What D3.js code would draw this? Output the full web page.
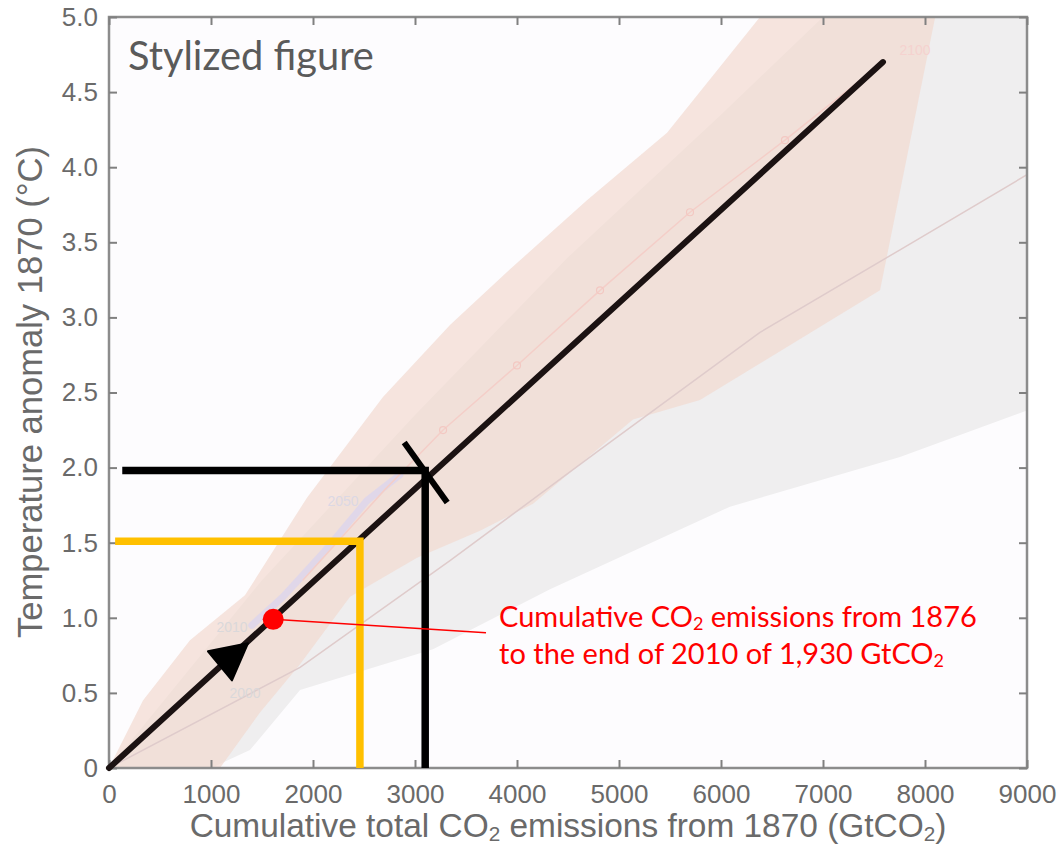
<!DOCTYPE html>
<html>
<head>
<meta charset="utf-8">
<script src="https://cdn.jsdelivr.net/npm/d3@7"></script>
<style>
  body { margin: 0; background: #fff; }
  svg { display: block; }
</style>
</head>
<body>
<svg id="chart"></svg>
<script>
// ---- data (GtCO2, degC) ----
const xTickValues = [0, 1000, 2000, 3000, 4000, 5000, 6000, 7000, 8000, 9000];
const yTickValues = [0, 0.5, 1, 1.5, 2, 2.5, 3, 3.5, 4, 4.5, 5];
const yTickLabels = ["0", "0.5", "1.0", "1.5", "2.0", "2.5", "3.0", "3.5", "4.0", "4.5", "5.0"];

// RCP plume (pink): upper edge, right edge, lower edge (right to left)
const pinkUpper = [[0, 0], [333, 0.45], [794, 0.85], [1333, 1.15], [1941, 1.80], [2686, 2.47], [3343, 2.95],
                   [3931, 3.32], [4686, 3.78], [5471, 4.23], [6382, 5.0], [6560, 5.2]];
const pinkRight = [[8100, 5.2], [8100, 5.0], [7559, 3.18]];
const pinkLower = [[5794, 2.45], [5137, 2.32], [4157, 1.76], [3637, 1.58], [3020, 1.40], [2363, 1.14],
                   [1873, 0.69], [1480, 0.37], [1088, 0]];

// 1% per year CO2 plume (grey)
const grayUpper = [[0, 0], [1500, 1.25], [3000, 2.35], [4500, 3.4], [6000, 4.35], [7000, 5.0], [7100, 5.2],
                   [9200, 5.2], [9200, 2.45]];
const grayLower = [[9000, 2.38], [7755, 2.07], [6088, 1.74], [4324, 1.19], [3176, 0.79], [1873, 0.52],
                   [1382, 0.12], [1000, 0]];

// faint background lines
const onePctLine = [[0, 0], [1873, 0.67], [3343, 1.38], [4814, 2.12], [6382, 2.90], [7755, 3.45], [9000, 3.95]];
const rcpLine = [[1900, 1.25], [2700, 1.85], [3275, 2.25], [4000, 2.68], [4814, 3.18], [5696, 3.70], [6627, 4.18], [7588, 4.70]];
const rcpMarkers = [[3275, 2.25], [4000, 2.68], [4814, 3.18], [5696, 3.70], [6627, 4.18]];
const histLine = [[1400, 0.95], [1706, 1.14], [2098, 1.43], [2529, 1.78], [2850, 1.95]];
const yearLabels = [
  { text: "2010", x: 1206, y: 0.94, color: "#dad8da" },
  { text: "2000", x: 1333, y: 0.50, color: "#dad8da" },
  { text: "2050", x: 2294, y: 1.78, color: "#dcd8e4" },
  { text: "2100", x: 7902, y: 4.78, color: "#f5d2cf" }
];

// stylized relationship
const mainLine = [[0, 0], [7588, 4.70]];
const arrowAt = [1176, 0.73];
const thresholds = [
  { temp: 1.98, emis: 3100, color: "#000000", start: 130 },
  { temp: 1.51, emis: 2460, color: "#ffc000", start: 60 }
];
const highlight = [1610, 0.99];
const noteEnd = [3696, 0.90];
const noteAt = [3824, 0.94];
const noteLines = [["Cumulative CO", "2", " emissions from 1876"], ["to the end of 2010 of 1,930 GtCO", "2", ""]];

// ---- layout ----
const width = 1061, height = 849;
const svg = d3.select("#chart").attr("width", width).attr("height", height);

const x = d3.scaleLinear().domain([0, 9000]).range([109, 1027]);
const y = d3.scaleLinear().domain([0, 5]).range([768, 17]);

const line = d3.line().x(d => x(d[0])).y(d => y(d[1]));

// fit a text element to a target width
function fitWidth(sel, target) {
  const w = sel.node().getBBox().width;
  const fs = parseFloat(sel.attr("font-size"));
  sel.attr("font-size", fs * target / w);
  return fs * target / w;
}

svg.append("clipPath").attr("id", "plot-clip")
  .append("rect")
  .attr("x", x(0)).attr("y", y(5))
  .attr("width", x(9000) - x(0)).attr("height", y(0) - y(5));

svg.append("rect")
  .attr("x", x(0)).attr("y", y(5))
  .attr("width", x(9000) - x(0)).attr("height", y(0) - y(5))
  .attr("fill", "#fdfcfe");

const plot = svg.append("g").attr("clip-path", "url(#plot-clip)");

// plumes
plot.append("path")
  .attr("d", line(grayUpper.concat(grayLower)) + "Z")
  .attr("fill", "#efeeef");

plot.append("path")
  .attr("d", line(pinkUpper.concat(pinkRight, pinkLower)) + "Z")
  .attr("fill", "#f1d8ce")
  .attr("fill-opacity", 0.68);

// faint lines
plot.append("path")
  .attr("d", line(onePctLine))
  .attr("fill", "none")
  .attr("stroke", "#dfcbcb")
  .attr("stroke-width", 1.5);

plot.append("path")
  .attr("d", line(histLine))
  .attr("fill", "none")
  .attr("stroke", "#dcd5ec")
  .attr("stroke-width", 7)
  .attr("stroke-linecap", "round")
  .attr("opacity", 0.8);

plot.append("path")
  .attr("d", line(rcpLine))
  .attr("fill", "none")
  .attr("stroke", "#f4cec8")
  .attr("stroke-width", 1.5);

plot.selectAll(".rcp-mark")
  .data(rcpMarkers)
  .enter().append("circle")
  .attr("class", "rcp-mark")
  .attr("cx", d => x(d[0]))
  .attr("cy", d => y(d[1]))
  .attr("r", 3.5)
  .attr("fill", "none")
  .attr("stroke", "#f3c8c2")
  .attr("stroke-width", 1.2);

plot.selectAll(".year")
  .data(yearLabels)
  .enter().append("text")
  .attr("class", "year")
  .attr("x", d => x(d.x))
  .attr("y", d => y(d.y))
  .attr("text-anchor", "middle")
  .attr("dominant-baseline", "central")
  .attr("font-family", "Liberation Sans, Arial, sans-serif")
  .attr("font-size", 14)
  .attr("fill", d => d.color)
  .text(d => d.text);

// frame
svg.append("rect")
  .attr("x", x(0)).attr("y", y(5))
  .attr("width", x(9000) - x(0)).attr("height", y(0) - y(5))
  .attr("fill", "none")
  .attr("stroke", "#8c8c8c")
  .attr("stroke-width", 2.5);

// axes
const tickFont = "Liberation Sans, Arial, Helvetica, sans-serif";

const xAxis = svg.append("g")
  .attr("transform", `translate(0,${y(0)})`)
  .call(d3.axisBottom(x).tickValues(xTickValues).tickSize(-8).tickPadding(17).tickFormat(d => d));
const yAxis = svg.append("g")
  .attr("transform", `translate(${x(0)},0)`)
  .call(d3.axisLeft(y).tickValues(yTickValues).tickSize(-8).tickPadding(11).tickFormat((d, i) => yTickLabels[i]));
const topAxis = svg.append("g")
  .attr("transform", `translate(0,${y(5)})`)
  .call(d3.axisTop(x).tickValues(xTickValues).tickSize(-8).tickFormat(""));
const rightAxis = svg.append("g")
  .attr("transform", `translate(${x(9000)},0)`)
  .call(d3.axisRight(y).tickValues(yTickValues).tickSize(-8).tickFormat(""));

[xAxis, yAxis, topAxis, rightAxis].forEach(a => {
  a.select(".domain").remove();
  a.selectAll(".tick line").attr("stroke", "#808080").attr("stroke-width", 2);
  a.selectAll(".tick text")
    .attr("font-family", tickFont)
    .attr("font-size", 26)
    .attr("fill", "#6a6a6a");
});

// axis titles
const xTitle = svg.append("text")
  .attr("x", 568)
  .attr("y", 837)
  .attr("text-anchor", "middle")
  .attr("font-family", tickFont)
  .attr("font-size", 28)
  .attr("fill", "#6a6a6a");
xTitle.append("tspan").text("Cumulative total CO");
xTitle.append("tspan").attr("font-size", "0.62em").attr("dy", "0.2em").text("2");
xTitle.append("tspan").attr("dy", "-0.12em").text(" emissions from 1870 (GtCO");
xTitle.append("tspan").attr("font-size", "0.62em").attr("dy", "0.2em").text("2");
xTitle.append("tspan").attr("dy", "-0.12em").text(")");
fitWidth(xTitle, 757);

const yTitle = svg.append("text")
  .attr("transform", "translate(42,392) rotate(-90)")
  .attr("text-anchor", "middle")
  .attr("font-family", tickFont)
  .attr("font-size", 28)
  .attr("fill", "#6a6a6a")
  .text("Temperature anomaly 1870 (°C)");
fitWidth(yTitle, 492);

const title = svg.append("text")
  .attr("x", 128)
  .attr("y", 70)
  .attr("font-family", "Lato, Open Sans, sans-serif")
  .attr("font-size", 32)
  .attr("fill", "#5a5a5a")
  .text("Stylized figure");
fitWidth(title, 246);

// main stylized line
svg.append("path")
  .attr("d", line(mainLine))
  .attr("fill", "none")
  .attr("stroke", "#1b1212")
  .attr("stroke-width", 6)
  .attr("stroke-linecap", "round");

// thresholds
thresholds.forEach(t => {
  svg.append("path")
    .attr("d", line([[t.start, t.temp], [t.emis, t.temp], [t.emis, 0]]))
    .attr("fill", "none")
    .attr("stroke", t.color)
    .attr("stroke-width", 7.5)
    .attr("stroke-linejoin", "miter");
});

// crossing tick on the 2 degree point
const cx = x(thresholds[0].emis), cy = y(thresholds[0].temp);
svg.append("line")
  .attr("x1", cx - 21).attr("y1", cy - 28)
  .attr("x2", cx + 22).attr("y2", cy + 32)
  .attr("stroke", "#000")
  .attr("stroke-width", 6);

// arrow head on the main line
const ax = x(arrowAt[0]), ay = y(arrowAt[1]);
svg.append("path")
  .attr("d", `M${ax - 21},${ay - 7}L${ax + 19},${ay - 15}L${ax + 3},${ay + 22}Z`)
  .attr("fill", "#000")
  .attr("stroke", "#000")
  .attr("stroke-width", 2)
  .attr("stroke-linejoin", "round");

// highlight point and note
svg.append("line")
  .attr("x1", x(highlight[0])).attr("y1", y(highlight[1]))
  .attr("x2", x(noteEnd[0])).attr("y2", y(noteEnd[1]))
  .attr("stroke", "#ff0000")
  .attr("stroke-width", 1.6);

svg.append("circle")
  .attr("cx", x(highlight[0]))
  .attr("cy", y(highlight[1]))
  .attr("r", 10.5)
  .attr("fill", "#ff0000");

const note = svg.append("g");
let noteSize = 26;
noteLines.forEach((parts, i) => {
  const t = note.append("text")
    .attr("x", x(noteAt[0]))
    .attr("y", y(noteAt[1]) + i * 37)
    .attr("font-family", "Lato, Open Sans, sans-serif")
    .attr("font-size", noteSize)
    .attr("fill", "#ff0000");
  t.append("tspan").text(parts[0]);
  t.append("tspan").attr("font-size", "0.62em").attr("dy", "0.2em").text(parts[1]);
  if (parts[2]) t.append("tspan").attr("dy", "-0.12em").text(parts[2]);
  if (i === 0) noteSize = fitWidth(t, 478);
});
</script>
</body>
</html>
